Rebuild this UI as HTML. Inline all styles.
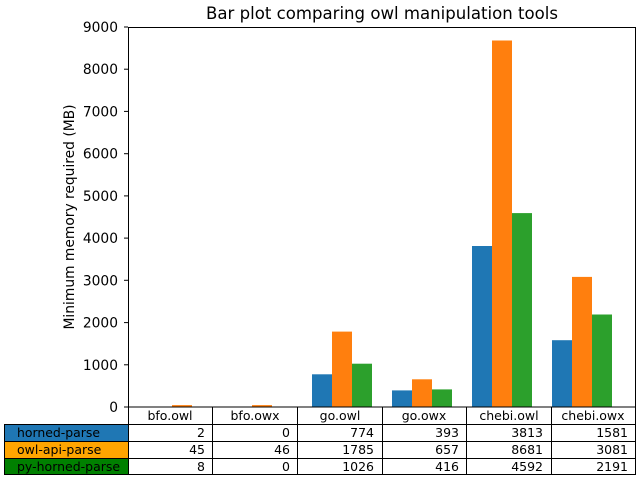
<!DOCTYPE html>
<html><head><meta charset="utf-8"><style>body{margin:0;background:#fff}svg{display:block}text{font-family:"DejaVu Sans","Liberation Sans",sans-serif;fill:#000}</style></head>
<body>
<svg width="640" height="480" viewBox="0 0 640 480" xmlns="http://www.w3.org/2000/svg">
<rect width="640" height="480" fill="#fff"/>
<text x="382" y="19" font-size="16.5" text-anchor="middle" textLength="352" lengthAdjust="spacingAndGlyphs">Bar plot comparing owl manipulation tools</text>
<g font-size="13.8" text-anchor="end">
<text x="118" y="412">0</text>
<text x="118" y="370">1000</text>
<text x="118" y="327.6">2000</text>
<text x="118" y="285.3">3000</text>
<text x="118" y="243.1">4000</text>
<text x="118" y="200.9">5000</text>
<text x="118" y="158.7">6000</text>
<text x="118" y="116.4">7000</text>
<text x="118" y="74.2">8000</text>
<text x="118" y="32">9000</text>
</g>
<g stroke="#000" stroke-width="1">
<line x1="124" x2="128" y1="407" y2="407"/><line x1="124" x2="128" y1="364.8" y2="364.8"/><line x1="124" x2="128" y1="322.6" y2="322.6"/><line x1="124" x2="128" y1="280.3" y2="280.3"/><line x1="124" x2="128" y1="238.1" y2="238.1"/><line x1="124" x2="128" y1="195.9" y2="195.9"/><line x1="124" x2="128" y1="153.7" y2="153.7"/><line x1="124" x2="128" y1="111.4" y2="111.4"/><line x1="124" x2="128" y1="69.2" y2="69.2"/><line x1="124" x2="128" y1="27" y2="27"/>
</g>
<text transform="translate(74,217) rotate(-90)" font-size="13.8" text-anchor="middle" textLength="225" lengthAdjust="spacingAndGlyphs">Minimum memory required (MB)</text>
<g fill="#1f77b4">
<rect x="152" y="406.9" width="20" height="0.1"/>
<rect x="312" y="374.3" width="20" height="32.7"/>
<rect x="392" y="390.4" width="20" height="16.6"/>
<rect x="472" y="246" width="20" height="161"/>
<rect x="552" y="340.2" width="20" height="66.8"/>
</g>
<g fill="#ff7f0e">
<rect x="172" y="405.1" width="20" height="1.9"/>
<rect x="252" y="405.1" width="20" height="1.9"/>
<rect x="332" y="331.6" width="20" height="75.4"/>
<rect x="412" y="379.3" width="20" height="27.7"/>
<rect x="492" y="40.5" width="20" height="366.5"/>
<rect x="572" y="276.9" width="20" height="130.1"/>
</g>
<g fill="#2ca02c">
<rect x="192" y="406.6" width="20" height="0.4"/>
<rect x="352" y="363.7" width="20" height="43.3"/>
<rect x="432" y="389.4" width="20" height="17.6"/>
<rect x="512" y="213.1" width="20" height="193.9"/>
<rect x="592" y="314.5" width="20" height="92.5"/>
</g>
<rect x="128.5" y="27.5" width="507" height="379.5" fill="none" stroke="#000" stroke-width="1"/>
<rect x="4" y="424" width="124" height="17" fill="#1f77b4"/>
<rect x="4" y="441" width="124" height="17" fill="#ffa500"/>
<rect x="4" y="458" width="124" height="17" fill="#008000"/>
<g stroke="#000" stroke-width="1" fill="none">
<rect x="4.5" y="424.5" width="124" height="50"/>
<line x1="4.5" x2="636" y1="441.5" y2="441.5"/>
<line x1="4.5" x2="636" y1="458.5" y2="458.5"/>
<line x1="128.5" x2="636" y1="424.5" y2="424.5"/>
<line x1="128.5" x2="635.5" y1="474.5" y2="474.5"/>
<line x1="128.5" x2="128.5" y1="407" y2="475"/>
<line x1="212.5" x2="212.5" y1="407" y2="475"/>
<line x1="297.5" x2="297.5" y1="407" y2="475"/>
<line x1="382.5" x2="382.5" y1="407" y2="475"/>
<line x1="466.5" x2="466.5" y1="407" y2="475"/>
<line x1="551.5" x2="551.5" y1="407" y2="475"/>
<line x1="635.5" x2="635.5" y1="407" y2="475"/>
</g>
<g font-size="12.5">
<text x="17" y="437" textLength="83" lengthAdjust="spacingAndGlyphs">horned-parse</text>
<text x="17" y="454">owl-api-parse</text>
<text x="17" y="471">py-horned-parse</text>
</g>
<g font-size="12.5" text-anchor="middle">
<text x="170" y="420">bfo.owl</text>
<text x="255" y="420">bfo.owx</text>
<text x="340" y="420">go.owl</text>
<text x="424" y="420">go.owx</text>
<text x="509" y="420">chebi.owl</text>
<text x="593" y="420">chebi.owx</text>
</g>
<g font-size="12.5" text-anchor="end">
<text x="205" y="437">2</text><text x="290" y="437">0</text><text x="374" y="437">774</text><text x="459" y="437">393</text><text x="543" y="437">3813</text><text x="628" y="437">1581</text>
<text x="205" y="454">45</text><text x="290" y="454">46</text><text x="374" y="454">1785</text><text x="459" y="454">657</text><text x="543" y="454">8681</text><text x="628" y="454">3081</text>
<text x="205" y="471">8</text><text x="290" y="471">0</text><text x="374" y="471">1026</text><text x="459" y="471">416</text><text x="543" y="471">4592</text><text x="628" y="471">2191</text>
</g>
</svg>
</body></html>
